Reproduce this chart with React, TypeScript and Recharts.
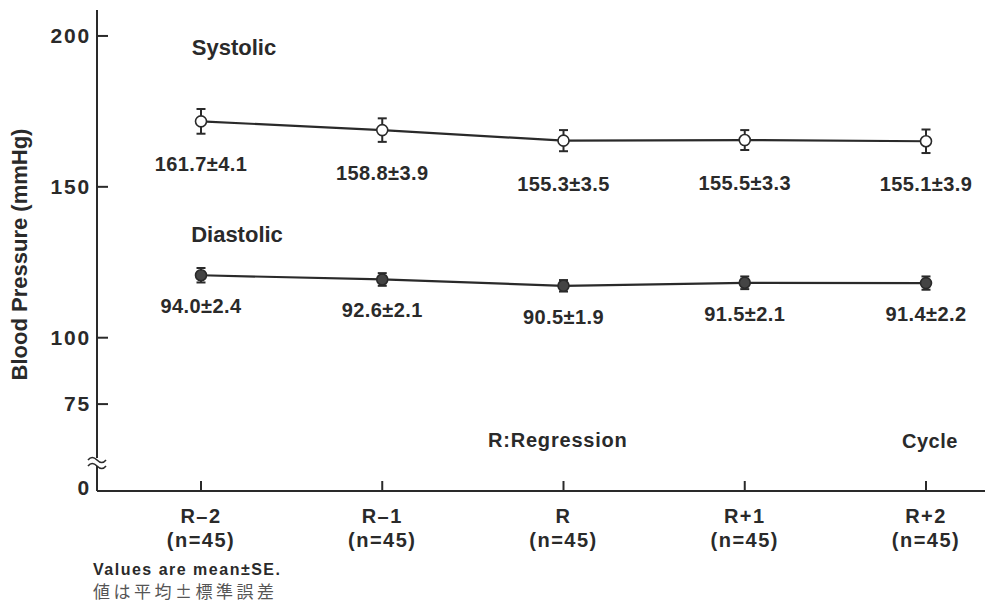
import { LineChart, Line, XAxis, YAxis, ErrorBar, LabelList } from 'recharts'

// cycles around the regression point
const cycles = ['R–2', 'R–1', 'R', 'R+1', 'R+2']
const sampleSizes = [45, 45, 45, 45, 45]

// mean ± SE (mmHg)
const systolicMean = [161.7, 158.8, 155.3, 155.5, 155.1]
const systolicSE = [4.1, 3.9, 3.5, 3.3, 3.9]
const diastolicMean = [94.0, 92.6, 90.5, 91.5, 91.4]
const diastolicSE = [2.4, 2.1, 1.9, 2.1, 2.2]

// broken axis: where each printed tick sits on the drawn scale
const yTickPositions = [49.2, 78, 100, 150, 200]
const yTickLabels = ['0', '75', '100', '150', '200']

const INK = '#2a2a2a'
const FONT = '"Liberation Sans", Arial, Helvetica, sans-serif'

const data = cycles.map((c, i) => ({
    cycle: c,
    n: sampleSizes[i],
    sys: systolicMean[i],
    sysSE: systolicSE[i],
    sysLabel: `${systolicMean[i].toFixed(1)}±${systolicSE[i].toFixed(1)}`,
    dia: diastolicMean[i],
    diaSE: diastolicSE[i],
    diaLabel: `${diastolicMean[i].toFixed(1)}±${diastolicSE[i].toFixed(1)}`,
}))

const textStyle = { fontFamily: FONT, fontWeight: 700, fill: INK }

function PressureTick({ x, y, index }: any) {
    const label = yTickLabels[index]
    return (
        <g>
            {label !== '0' && <line x1={x} y1={y} x2={x + 11} y2={y} stroke={INK} strokeWidth={2} />}
            {label === '0' && (
                // axis break mark
                <g stroke={INK} strokeWidth={1.6} fill="none">
                    <rect x={x - 3} y={y - 33} width={6} height={8} fill="#fff" stroke="none" />
                    <path d={`M${x - 9},${y - 31} q4,-5 9,0 t9,0`} />
                    <path d={`M${x - 9},${y - 25} q4,-5 9,0 t9,0`} />
                </g>
            )}
            <text x={x - 6} y={label === '0' ? y + 4 : y + 7} textAnchor="end" fontSize={21} letterSpacing={1.8} style={textStyle}>
                {label}
            </text>
        </g>
    )
}

function CycleTick({ x, y, payload, index }: any) {
    return (
        <g>
            <line x1={x} y1={y} x2={x} y2={y - 10} stroke={INK} strokeWidth={2} />
            <text x={x} y={y + 32} textAnchor="middle" fontSize={20} letterSpacing={1.5} style={textStyle}>
                {payload.value}
            </text>
            <text x={x} y={y + 56} textAnchor="middle" fontSize={20} letterSpacing={1.5} style={textStyle}>
                (n={sampleSizes[index]})
            </text>
        </g>
    )
}

const valueLabel = (offset: number) => (p: any) => (
    <text x={p.x} y={p.y + offset} textAnchor="middle" fontSize={20} letterSpacing={0.4} style={textStyle}>
        {p.value}
    </text>
)

export default function App() {
    return (
        <div style={{ position: 'relative', width: 985, height: 594 }}>
            <LineChart width={985} height={594} data={data} margin={{ top: 2, right: 3, left: 0, bottom: 0 }}>
                <XAxis
                    dataKey="cycle"
                    padding={{ left: 104, right: 64 }}
                    height={111}
                    interval={0}
                    tickSize={0}
                    tickMargin={0}
                    axisLine={{ stroke: INK, strokeWidth: 2 }}
                    tick={<CycleTick />}
                />
                <YAxis
                    yAxisId="bp"
                    type="number"
                    width={89}
                    domain={[49.2, 208.6]}
                    ticks={yTickPositions}
                    allowDataOverflow
                    tickSize={0}
                    tickMargin={0}
                    axisLine={{ stroke: INK, strokeWidth: 2 }}
                    tick={<PressureTick />}
                    label={{
                        content: ({ viewBox }: any) => {
                            const cx = viewBox.x + 19
                            const cy = viewBox.y + viewBox.height / 2 + 4
                            return (
                                <text x={cx} y={cy} transform={`rotate(-90 ${cx} ${cy})`} textAnchor="middle" fontSize={22} style={textStyle}>
                                    Blood Pressure  (mmHg)
                                </text>
                            )
                        },
                    }}
                />
                <YAxis yAxisId="sys" hide type="number" domain={[39.2, 198.6]} allowDataOverflow />
                <YAxis yAxisId="dia" hide type="number" domain={[22.5, 181.9]} allowDataOverflow />
                <Line
                    yAxisId="sys"
                    dataKey="sys"
                    stroke={INK}
                    strokeWidth={2.2}
                    dot={{ r: 5.5, fill: '#fff', stroke: INK, strokeWidth: 1.6 }}
                    isAnimationActive={false}
                >
                    <ErrorBar dataKey="sysSE" width={4.5} stroke={INK} strokeWidth={2} direction="y" isAnimationActive={false} />
                    <LabelList dataKey="sysLabel" content={valueLabel(50)} />
                </Line>
                <Line
                    yAxisId="dia"
                    dataKey="dia"
                    stroke={INK}
                    strokeWidth={2.2}
                    dot={{ r: 5.5, fill: '#444', stroke: INK, strokeWidth: 1.6 }}
                    isAnimationActive={false}
                >
                    <ErrorBar dataKey="diaSE" width={4.5} stroke={INK} strokeWidth={2} direction="y" isAnimationActive={false} />
                    <LabelList dataKey="diaLabel" content={valueLabel(38)} />
                </Line>
            </LineChart>
            <svg
                width={985}
                height={602}
                style={{ position: 'absolute', left: 0, top: 0, pointerEvents: 'none' }}
            >
                <text x={226} y={47} textAnchor="middle" fontSize={22} style={textStyle}>Systolic</text>
                <text x={229} y={234} textAnchor="middle" fontSize={22} style={textStyle}>Diastolic</text>
                <text x={480} y={439} fontSize={20} letterSpacing={0.8} style={textStyle}>R:Regression</text>
                <text x={894} y={440} fontSize={20} letterSpacing={0.5} style={textStyle}>Cycle</text>
                <text x={85} y={567} fontSize={16} letterSpacing={1.5} style={textStyle}>Values are mean±SE.</text>
                <text x={85} y={590} fontSize={17} letterSpacing={3.5} style={{ fontFamily: '"Noto Sans CJK JP", sans-serif', fill: '#555' }}>
                    値は平均±標準誤差
                </text>
            </svg>
        </div>
    )
}
